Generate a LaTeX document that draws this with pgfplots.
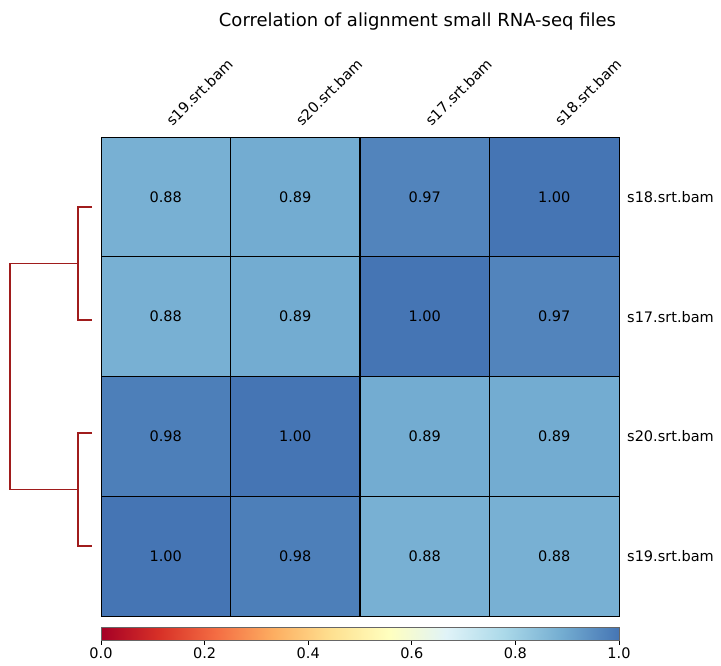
\documentclass[border=0pt]{standalone}
\usepackage{fontspec}
\setmainfont{DejaVu Sans}
\usepackage{pgfplots}
\usepackage{pgfplotstable}
\pgfplotsset{compat=1.18}
\definecolor{dendro}{RGB}{160,28,28}
\pgfplotsset{
  colormap={rdylbu}{rgb255=(165,0,38) rgb255=(215,48,39) rgb255=(244,109,67) rgb255=(253,174,97) rgb255=(254,224,144) rgb255=(255,255,191) rgb255=(224,243,248) rgb255=(171,217,233) rgb255=(116,173,209) rgb255=(69,117,180)}
}
\pgfplotstableread{
x y c lab
0 0 0.88 0.88
1 0 0.89 0.89
2 0 0.97 0.97
3 0 1.00 1.00
0 1 0.88 0.88
1 1 0.89 0.89
2 1 1.00 1.00
3 1 0.97 0.97
0 2 0.98 0.98
1 2 1.00 1.00
2 2 0.89 0.89
3 2 0.89 0.89
0 3 1.00 1.00
1 3 0.98 0.98
2 3 0.88 0.88
3 3 0.88 0.88
}\corrdata
\begin{document}
\begin{tikzpicture}[font=\fontsize{14.5}{17}\selectfont]
\useasboundingbox (0pt,0pt) rectangle (721pt,-665pt);
% title
\node[font=\fontsize{18}{21}\selectfont, anchor=base] at (417.5pt,-26pt) {Correlation of alignment small RNA-seq files};
% heatmap
\begin{axis}[
  at={(101pt,-137pt)}, anchor=north west,
  scale only axis, width=518pt, height=479pt,
  xmin=-0.5, xmax=3.5, ymin=-0.5, ymax=3.5,
  y dir=reverse,
  axis on top,
  colormap name=rdylbu,
  point meta min=0, point meta max=1,
  xtick={0,1,2,3},
  xticklabels={s19.srt.bam,s20.srt.bam,s17.srt.bam,s18.srt.bam},
  ytick={0,1,2,3},
  yticklabels={s18.srt.bam,s17.srt.bam,s20.srt.bam,s19.srt.bam},
  xticklabel pos=right, yticklabel pos=right,
  major tick length=0pt,
  xticklabel style={inner sep=0pt, anchor=south west, xshift=7pt, yshift=10pt, rotate=45},
  yticklabel style={inner sep=0pt, anchor=west, xshift=8pt},
  minor xtick={0.5,1.5,2.5}, minor ytick={0.5,1.5,2.5},
  minor tick length=0pt,
  xminorgrids, yminorgrids,
  minor grid style={black, line width=1.3pt},
  axis line style={black, line width=1pt},
]
\addplot[matrix plot*, mesh/cols=4, point meta=explicit] table[x=x, y=y, meta=c] {\corrdata};
\addplot[only marks, mark=none, point meta=explicit symbolic,
  nodes near coords, nodes near coords align=center,
  every node near coord/.style={black, font=\fontsize{14.5}{17}\selectfont}]
  table[x=x, y=y, meta=lab] {\corrdata};
\end{axis}
% colorbar
\begin{axis}[
  at={(101pt,-627pt)}, anchor=north west,
  scale only axis, width=518pt, height=13pt,
  xmin=0, xmax=1, ymin=0, ymax=1,
  colormap name=rdylbu,
  point meta min=0, point meta max=1,
  xtick={0,0.2,0.4,0.6,0.8,1.0},
  ytick=\empty,
  xticklabel style={/pgf/number format/.cd, fixed, fixed zerofill, precision=1, assume math mode=true},
  x tick style={black, line width=0.8pt},
  tick align=outside, major tick length=4.5pt,
  xtick pos=bottom,
  axis on top,
  axis line style={gray!80!black, line width=0.8pt},
]
\addplot[surf, shader=interp, mesh/rows=2, point meta=x] coordinates {
(0,0) (0.5,0) (1,0)

(0,1) (0.5,1) (1,1)
};
\end{axis}
% dendrogram
\begin{axis}[
  at={(0pt,-665pt)}, anchor=south west,
  scale only axis, width=100pt, height=665pt,
  xmin=0, xmax=100, ymin=-665, ymax=0,
  axis lines=none,
]
\addplot[dendro, line width=1.4pt] coordinates {(92,-207) (78,-207) (78,-320) (92,-320)};
\addplot[dendro, line width=1.4pt] coordinates {(92,-433) (78,-433) (78,-546) (92,-546)};
\addplot[dendro, line width=1.4pt] coordinates {(78,-263.5) (10,-263.5) (10,-489.5) (78,-489.5)};
\end{axis}
\end{tikzpicture}
\end{document}
